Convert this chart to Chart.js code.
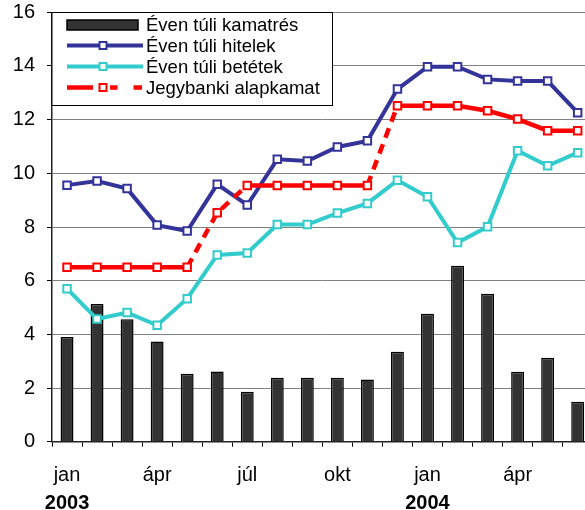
<!DOCTYPE html>
<html>
<head>
<meta charset="utf-8">
<script src="https://cdn.jsdelivr.net/npm/chart.js@4/dist/chart.umd.min.js"></script>
<style>
  html, body { margin: 0; padding: 0; overflow: hidden; background: #fff; }
  #wrap { width: 600px; height: 510px; }
</style>
</head>
<body>
<div id="wrap"><canvas id="c" width="600" height="510"></canvas></div>
<script>
// ---- data ----
const categories = ['2003 jan','2003 feb','2003 márc','2003 ápr','2003 máj','2003 jún','2003 júl','2003 aug','2003 szept','2003 okt','2003 nov','2003 dec',
                    '2004 jan','2004 feb','2004 márc','2004 ápr','2004 máj','2004 jún'];
const xTickLabels = ['jan','','','ápr','','','júl','','','okt','','','jan','','','ápr','',''];
const yearLabels  = ['2003','','','','','','','','','','','','2004','','','','',''];
const seriesNames = ['Éven túli kamatrés','Éven túli hitelek','Éven túli betétek','Jegybanki alapkamat'];
const kamatres  = [3.9, 5.13, 4.56, 3.73, 2.53, 2.62, 1.86, 2.38, 2.38, 2.38, 2.32, 3.35, 4.77, 6.56, 5.51, 2.61, 3.13, 1.49];
const hitelek   = [9.56, 9.71, 9.43, 8.07, 7.85, 9.59, 8.82, 10.52, 10.46, 10.98, 11.21, 13.14, 13.97, 13.97, 13.5, 13.44, 13.44, 12.26];
const betetek   = [5.70, 4.57, 4.81, 4.34, 5.33, 6.96, 7.03, 8.09, 8.09, 8.52, 8.88, 9.74, 9.13, 7.42, 8.01, 10.84, 10.28, 10.77];
const alapkamat = [6.5, 6.5, 6.5, 6.5, 6.5, 8.53, 9.55, 9.55, 9.55, 9.55, 9.55, 12.52, 12.52, 12.52, 12.33, 12.02, 11.59, 11.59];
const dashedAfter = [4, 5, 10]; // segments of the base rate drawn dashed (rate jumps)

const FONT = '"Liberation Sans", Arial, sans-serif';
const C_BAR = '#333333', C_BLUE = '#333399', C_CYAN = '#33CCCC', C_RED = '#FF0000';

const legendPlugin = {
  id: 'boxLegend',
  afterDraw(chart) {
    const ctx = chart.ctx;
    const x0 = 52, y0 = 12.5, x1 = 332.5, y1 = 105.5;
    ctx.save();
    ctx.fillStyle = '#fff';
    ctx.fillRect(x0, y0, x1 - x0, y1 - y0);
    ctx.strokeStyle = '#000';
    ctx.lineWidth = 1;
    ctx.strokeRect(x0, y0, x1 - x0, y1 - y0);
    const rows = [25, 45.5, 66.5, 87.5];
    ctx.font = '18.5px ' + FONT;
    ctx.fillStyle = '#000';
    ctx.textBaseline = 'middle';
    ctx.textAlign = 'left';
    seriesNames.forEach((n, i) => ctx.fillText(n, 146, rows[i] + 1));
    // bar sample
    ctx.fillStyle = C_BAR;
    ctx.fillRect(67, 20, 71, 10);
    ctx.lineWidth = 1.5;
    ctx.strokeStyle = '#000';
    ctx.strokeRect(67, 20, 71, 10);
    const marker = (x, y, col) => {
      ctx.fillStyle = '#fff';
      ctx.strokeStyle = col;
      ctx.lineWidth = 2;
      ctx.fillRect(x - 3.5, y - 3.5, 7, 7);
      ctx.strokeRect(x - 3.5, y - 3.5, 7, 7);
    };
    const seg = (xa, xb, y, col, w) => {
      ctx.strokeStyle = col; ctx.lineWidth = w;
      ctx.beginPath(); ctx.moveTo(xa, y); ctx.lineTo(xb, y); ctx.stroke();
    };
    seg(67, 143, rows[1], C_BLUE, 4); marker(103, rows[1], C_BLUE);
    seg(67, 143, rows[2], C_CYAN, 4); marker(103, rows[2], C_CYAN);
    seg(67, 93, rows[3], C_RED, 4.5); seg(110, 117.5, rows[3], C_RED, 4.5); seg(133.5, 142, rows[3], C_RED, 4.5);
    marker(103, rows[3], C_RED);
    ctx.restore();
  }
};

const lineDs = (label, data, color, order, extra) => Object.assign({
  type: 'line', label, data, borderColor: color, borderWidth: 4,
  pointStyle: 'rect', pointRadius: 5.3, pointBorderWidth: 2,
  pointBackgroundColor: '#fff', pointBorderColor: color,
  tension: 0, order, xAxisID: 'x', yAxisID: 'y'
}, extra || {});

new Chart(document.getElementById('c'), {
  data: {
    labels: categories,
    datasets: [
      { type: 'bar', label: seriesNames[0], data: kamatres, backgroundColor: C_BAR, borderColor: '#000',
        borderWidth: 1.5, barPercentage: 0.43, categoryPercentage: 1, order: 10, xAxisID: 'x', yAxisID: 'y' },
      lineDs(seriesNames[1], hitelek, C_BLUE, 3),
      lineDs(seriesNames[2], betetek, C_CYAN, 2),
      lineDs(seriesNames[3], alapkamat, C_RED, 1, {
        borderWidth: 4.5,
        segment: { borderDash: ctx => dashedAfter.includes(ctx.p0DataIndex) ? [10, 7] : undefined }
      })
    ]
  },
  options: {
    responsive: false,
    animation: false,
    devicePixelRatio: 1,
    layout: { padding: { left: 0, top: 12.3, right: 6, bottom: 0 } },
    plugins: { legend: { display: false }, tooltip: { enabled: false }, title: { display: false } },
    scales: {
      y: {
        min: 0, max: 16,
        ticks: { stepSize: 2, color: '#000', padding: 12, font: { family: FONT, size: 20 } },
        grid: { color: '#808080', lineWidth: 1, tickLength: 5, tickColor: '#000' },
        border: { color: '#222', width: 1.5 },
        afterFit(s) { s.width = 52; s.paddingTop = 0; s.paddingBottom = 0; }
      },
      x: {
        type: 'category', position: 'bottom', offset: true,
        ticks: { autoSkip: false, maxRotation: 0, minRotation: 0, color: '#000', padding: 17,
                 font: { family: FONT, size: 20 },
                 callback: (v, i) => xTickLabels[i] },
        grid: { display: true, drawOnChartArea: false, offset: true, tickLength: 5, tickColor: '#000' },
        border: { color: '#222', width: 1.5 },
        afterFit(s) { s.height = 44; s.paddingLeft = 0; s.paddingRight = 0; }
      },
      x2: {
        type: 'category', position: 'bottom', offset: true,
        ticks: { autoSkip: false, maxRotation: 0, minRotation: 0, color: '#000', padding: -2,
                 font: { family: FONT, size: 20, weight: 'bold' },
                 callback: (v, i) => yearLabels[i] },
        grid: { display: false },
        border: { display: false },
        afterFit(s) { s.height = 24.3; s.paddingLeft = 0; s.paddingRight = 0; }
      }
    }
  },
  plugins: [legendPlugin]
});
</script>
</body>
</html>
